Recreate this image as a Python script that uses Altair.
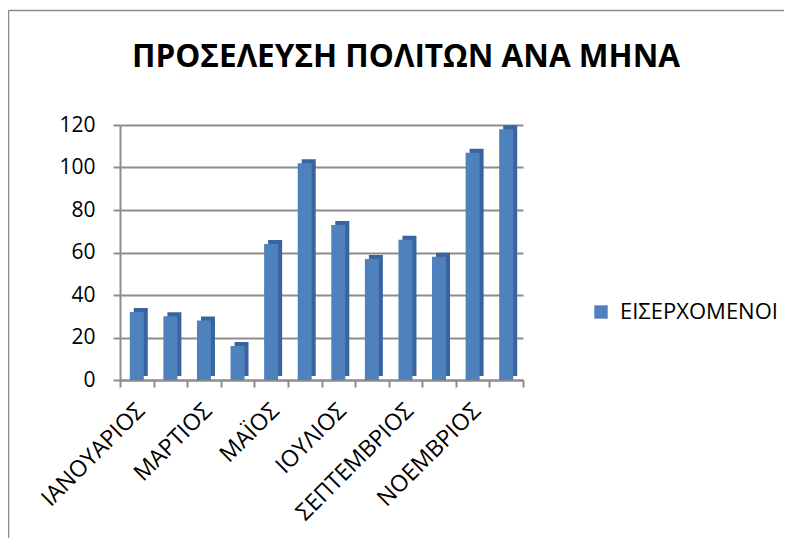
import altair as alt
import pandas as pd

# ---- data ----
months = ["ΙΑΝΟΥΑΡΙΟΣ", "ΦΕΒΡΟΥΑΡΙΟΣ", "ΜΑΡΤΙΟΣ", "ΑΠΡΙΛΙΟΣ", "ΜΑΪΟΣ", "ΙΟΥΝΙΟΣ",
          "ΙΟΥΛΙΟΣ", "ΑΥΓΟΥΣΤΟΣ", "ΣΕΠΤΕΜΒΡΙΟΣ", "ΟΚΤΩΒΡΙΟΣ", "ΝΟΕΜΒΡΙΟΣ", "ΔΕΚΕΜΒΡΙΟΣ"]
values = [32, 30, 28, 16, 64, 102, 73, 57, 66, 58, 107, 118]
series_name = "ΕΙΣΕΡΧΟΜΕΝΟΙ"
chart_title = "ΠΡΟΣΕΛΕΥΣΗ ΠΟΛΙΤΩΝ ΑΝΑ ΜΗΝΑ"
y_ticks = [0, 20, 40, 60, 80, 100, 120]
shown_labels = months[::2]

FONT = "Open Sans"
W, H = 403, 255
PAD_L, PAD_T = 112, 117
PAGE_W, PAGE_H = 776, 530

df = pd.DataFrame({"month": months, "value": values, "series": [series_name] * len(months)})

label_expr = ("indexof([" + ",".join("'%s'" % m for m in shown_labels) +
              "], datum.value) >= 0 ? datum.label : ''")

x_enc = alt.X("month:N", sort=months, title=None,
              scale=alt.Scale(paddingInner=0, paddingOuter=0),
              axis=alt.Axis(labelAngle=315, labelExpr=label_expr, tickBand="extent",
                            labelFontSize=23, labelFont=FONT, labelColor="black",
                            labelPadding=12, labelOffset=-4, labelOverlap=False,
                            domainColor="#8c8c8c", domainWidth=2,
                            tickColor="#8c8c8c", tickWidth=2, tickSize=7))
y_enc = alt.Y("value:Q", title=None,
              scale=alt.Scale(domain=[0, 120], nice=False),
              axis=alt.Axis(values=y_ticks, labelFontSize=21, labelFont=FONT,
                            labelColor="black", labelPadding=18,
                            domainColor="#8c8c8c", domainWidth=2,
                            tickColor="#8c8c8c", tickWidth=2, tickSize=7,
                            gridColor="#8c8c8c", gridWidth=2))

side = alt.Chart(df).mark_bar(size=14, xOffset=4, yOffset=-4, y2Offset=-4,
                              color="#3A64A0").encode(x=x_enc, y=y_enc)

front = alt.Chart(df).mark_bar(size=14).encode(
    x=x_enc, y=y_enc,
    color=alt.Color("series:N",
                    scale=alt.Scale(domain=[series_name], range=["#4F81BD"]),
                    legend=alt.Legend(title=None, orient="none", legendX=470, legendY=176,
                                      symbolType="square", symbolSize=180,
                                      symbolStrokeWidth=0,
                                      labelFontSize=22, labelFont=FONT,
                                      labelColor="black", labelOffset=8)))

frame_df = pd.DataFrame({"k": [0]})
top_border = alt.Chart(frame_df).mark_rule(color="#8c8c8c", strokeWidth=1.5).encode(
    x=alt.value(-PAD_L + 0.5), x2=alt.value(PAGE_W - PAD_L), y=alt.value(-PAD_T + 2.5))
left_border = alt.Chart(frame_df).mark_rule(color="#8c8c8c", strokeWidth=1.5).encode(
    x=alt.value(-PAD_L + 0.5), y=alt.value(-PAD_T + 2.5), y2=alt.value(PAGE_H - PAD_T))

title_df = pd.DataFrame({"t": [chart_title]})
title_mark = alt.Chart(title_df).mark_text(
    font=FONT, fontSize=31.5, fontWeight="bold", color="black",
    align="center", baseline="alphabetic").encode(
    text="t:N", x=alt.value(286), y=alt.value(-58))

chart = alt.layer(top_border, left_border, title_mark, side, front).properties(
    width=W, height=H,
    autosize=alt.AutoSizeParams(type="none"),
    padding={"left": PAD_L, "top": PAD_T, "right": PAGE_W - PAD_L - W,
             "bottom": PAGE_H - PAD_T - H},
).configure_view(stroke=None)

chart.save("out.html", embed_options={"renderer": "svg", "actions": False})
